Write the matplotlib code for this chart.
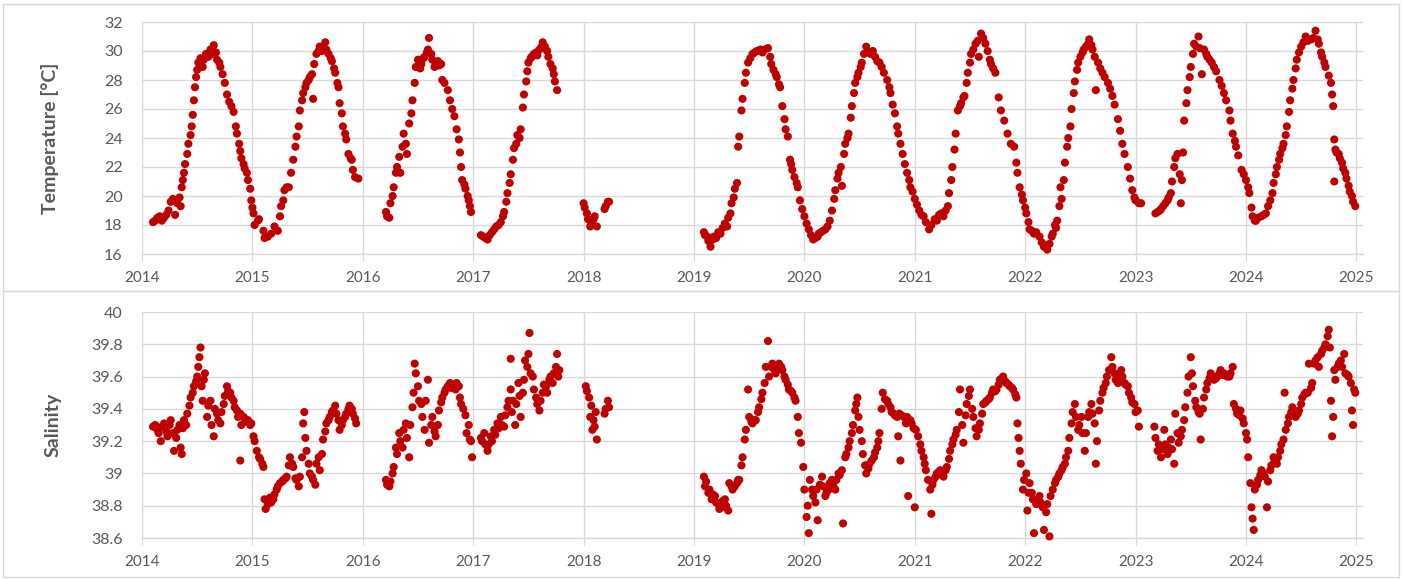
import matplotlib
matplotlib.use("Agg")
import matplotlib.pyplot as plt
from matplotlib.patches import Rectangle

# ---------------- data (decimal year, value) ----------------
temp_2014_2015 = [
 (2014.10,18.2),(2014.12,18.3),(2014.14,18.5),(2014.16,18.6),(2014.18,18.3),(2014.20,18.5),(2014.22,18.7),(2014.24,19.0),
 (2014.26,19.6),(2014.28,19.8),(2014.30,18.7),(2014.32,19.5),(2014.34,19.9),(2014.35,19.3),(2014.36,20.6),(2014.37,21.1),
 (2014.38,21.6),(2014.39,22.2),(2014.41,22.9),(2014.42,23.6),(2014.44,24.2),(2014.45,24.8),(2014.46,25.6),(2014.47,26.6),
 (2014.48,27.5),(2014.49,28.2),(2014.50,28.7),(2014.51,29.2),(2014.53,29.5),(2014.55,28.9),(2014.56,29.4),(2014.58,29.8),
 (2014.60,29.6),(2014.62,30.1),(2014.64,29.8),(2014.65,30.4),(2014.67,29.9),(2014.68,29.4),(2014.70,29.2),(2014.71,28.9),
 (2014.73,28.4),(2014.75,27.8),(2014.77,27.0),(2014.79,26.5),(2014.81,26.2),(2014.83,25.8),(2014.85,24.8),(2014.86,24.3),
 (2014.88,23.6),(2014.89,23.1),(2014.90,22.6),(2014.92,22.2),(2014.93,21.9),(2014.95,21.6),(2014.96,21.1),(2014.98,20.5),
 (2014.99,19.7),(2015.00,19.2),(2015.01,18.8),(2015.02,18.0),(2015.05,18.3),(2015.06,18.4),(2015.10,17.6),(2015.11,17.1),
 (2015.14,17.2),(2015.17,17.4),(2015.20,17.9),(2015.23,17.6),(2015.25,18.6),(2015.26,19.3),(2015.28,19.7),(2015.29,20.4),
 (2015.31,20.6),(2015.33,20.6),(2015.35,21.6),(2015.37,22.5),(2015.39,23.4),(2015.40,24.1),(2015.42,24.8),(2015.43,25.9),
 (2015.45,26.6),(2015.46,27.1),(2015.48,27.5),(2015.49,27.8),(2015.51,28.0),(2015.52,28.2),(2015.54,28.4),(2015.55,26.7),
 (2015.56,29.1),(2015.58,29.8),(2015.60,30.0),(2015.61,30.3),(2015.63,30.0),(2015.64,30.1),(2015.66,30.6),(2015.67,30.1),
 (2015.69,29.8),(2015.71,29.5),(2015.72,29.3),(2015.74,28.8),(2015.75,28.5),(2015.77,27.8),(2015.78,27.5),(2015.79,26.4),
 (2015.81,25.7),(2015.82,24.8),(2015.84,24.3),(2015.85,23.9),(2015.87,22.9),(2015.89,22.6),(2015.90,22.5),(2015.91,21.8),
 (2015.93,21.3),(2015.96,21.2),
]
temp_2016_2017 = [
 (2016.21,18.9),(2016.22,18.6),(2016.24,18.5),(2016.25,19.5),(2016.27,20.0),(2016.28,20.6),(2016.30,21.6),(2016.31,22.0),
 (2016.33,22.7),(2016.34,21.6),(2016.36,23.4),(2016.37,24.3),(2016.39,23.6),(2016.40,22.9),(2016.42,25.0),(2016.44,25.7),
 (2016.45,26.6),(2016.47,27.8),(2016.48,28.9),(2016.50,29.4),(2016.52,28.8),(2016.53,29.1),(2016.55,29.5),(2016.56,29.6),
 (2016.58,29.9),(2016.59,30.1),(2016.60,30.9),(2016.62,29.8),(2016.63,29.4),(2016.65,28.9),(2016.66,29.1),(2016.68,29.3),
 (2016.69,29.0),(2016.71,29.1),(2016.72,28.0),(2016.74,27.8),(2016.77,27.3),(2016.79,26.6),(2016.81,26.0),(2016.83,25.5),
 (2016.85,24.6),(2016.87,23.9),(2016.88,23.0),(2016.89,22.0),(2016.90,21.1),(2016.92,20.8),(2016.93,20.5),(2016.95,20.0),
 (2016.96,19.7),(2016.97,19.3),(2016.98,18.9),(2017.07,17.3),(2017.09,17.2),(2017.11,17.1),(2017.13,17.0),(2017.15,17.3),
 (2017.17,17.5),(2017.19,17.7),(2017.21,17.9),(2017.23,18.0),(2017.25,18.2),(2017.27,18.6),(2017.28,18.9),(2017.30,19.6),
 (2017.31,20.2),(2017.33,20.9),(2017.34,21.5),(2017.36,22.5),(2017.37,23.3),(2017.39,23.6),(2017.40,24.2),(2017.42,24.0),
 (2017.43,24.6),(2017.45,26.1),(2017.46,27.0),(2017.48,27.9),(2017.49,28.6),(2017.50,29.2),(2017.52,29.5),(2017.53,29.6),
 (2017.55,29.8),(2017.57,29.9),(2017.58,29.7),(2017.60,30.1),(2017.62,30.3),(2017.63,30.6),(2017.65,30.3),(2017.67,30.0),
 (2017.68,29.6),(2017.70,29.1),(2017.72,28.8),(2017.73,28.4),(2017.74,27.9),(2017.76,27.3),
]
temp_2018 = [
 (2018.00,19.5),(2018.01,19.2),(2018.03,18.8),(2018.04,18.4),(2018.06,17.9),(2018.07,18.2),(2018.09,18.4),(2018.10,18.6),
 (2018.12,17.9),(2018.19,19.1),(2018.20,19.3),(2018.22,19.6),(2018.23,19.6),
]
temp_2019_2022 = [
 (2019.09,17.5),(2019.10,17.3),(2019.12,17.2),(2019.13,16.9),(2019.15,16.5),(2019.17,17.0),(2019.18,17.2),(2019.20,17.1),
 (2019.22,17.5),(2019.24,17.4),(2019.26,17.8),(2019.28,18.1),(2019.30,17.9),(2019.31,18.5),(2019.33,18.8),(2019.34,19.5),
 (2019.36,19.9),(2019.37,20.5),(2019.39,20.9),(2019.40,23.4),(2019.41,24.1),(2019.43,25.9),(2019.44,26.7),(2019.46,27.8),
 (2019.47,28.5),(2019.49,29.2),(2019.51,29.5),(2019.53,29.8),(2019.55,29.9),(2019.57,30.0),(2019.60,30.1),(2019.62,29.9),
 (2019.64,30.1),(2019.67,30.2),(2019.69,29.6),(2019.70,29.1),(2019.72,28.7),(2019.74,28.4),(2019.75,28.2),(2019.77,27.7),
 (2019.78,27.5),(2019.80,26.2),(2019.82,25.3),(2019.83,24.6),(2019.85,24.1),(2019.87,22.5),(2019.88,22.2),(2019.89,21.8),
 (2019.91,21.3),(2019.93,20.9),(2019.94,20.6),(2019.96,19.7),(2019.98,19.1),(2020.00,18.6),(2020.02,18.1),(2020.04,17.7),
 (2020.06,17.3),(2020.08,17.0),(2020.10,17.1),(2020.12,17.2),(2020.13,17.4),(2020.15,17.5),(2020.17,17.6),(2020.19,17.7),
 (2020.21,17.9),(2020.23,18.3),(2020.25,19.0),(2020.27,19.8),(2020.28,20.4),(2020.30,21.2),(2020.31,21.6),(2020.33,22.0),
 (2020.34,20.7),(2020.36,22.9),(2020.37,23.6),(2020.39,24.0),(2020.40,24.3),(2020.42,25.4),(2020.43,26.2),(2020.45,27.1),
 (2020.46,27.8),(2020.48,28.2),(2020.49,28.5),(2020.51,28.9),(2020.52,29.2),(2020.54,29.8),(2020.56,30.3),(2020.58,29.9),
 (2020.60,29.8),(2020.62,30.0),(2020.64,29.6),(2020.66,29.3),(2020.68,29.2),(2020.70,28.9),(2020.72,28.5),(2020.75,28.0),
 (2020.77,27.5),(2020.78,27.1),(2020.80,26.3),(2020.82,25.7),(2020.84,24.8),(2020.85,24.3),(2020.87,23.6),(2020.89,22.9),
 (2020.91,22.2),(2020.93,21.6),(2020.95,21.1),(2020.96,20.6),(2020.98,20.3),(2021.00,19.8),(2021.02,19.4),(2021.04,19.0),
 (2021.06,18.7),(2021.08,18.6),(2021.10,18.2),(2021.13,17.7),(2021.15,18.0),(2021.18,18.4),(2021.20,18.3),(2021.22,18.7),
 (2021.24,18.8),(2021.26,18.6),(2021.28,19.0),(2021.30,19.3),(2021.31,20.2),(2021.33,21.1),(2021.34,22.0),(2021.36,23.2),
 (2021.37,24.3),(2021.39,25.9),(2021.41,26.2),(2021.42,26.4),(2021.44,26.8),(2021.45,26.9),(2021.47,27.8),(2021.48,28.5),
 (2021.50,29.2),(2021.51,29.8),(2021.53,30.1),(2021.55,30.5),(2021.57,30.7),(2021.58,29.6),(2021.60,31.2),(2021.62,30.9),
 (2021.64,30.5),(2021.66,30.0),(2021.68,29.4),(2021.69,29.1),(2021.71,28.8),(2021.73,28.5),(2021.76,26.8),(2021.78,25.9),
 (2021.81,25.2),(2021.84,24.3),(2021.87,23.6),(2021.90,23.4),(2021.92,22.3),(2021.93,21.6),(2021.95,20.6),(2021.97,20.1),
 (2021.98,19.7),(2022.00,19.2),(2022.01,18.8),(2022.03,18.2),(2022.04,17.7),(2022.06,17.6),(2022.08,17.4),(2022.10,17.5),
 (2022.13,17.2),(2022.15,16.8),(2022.17,16.5),(2022.19,16.6),(2022.20,16.3),(2022.22,16.7),(2022.24,17.2),(2022.25,17.4),
 (2022.27,18.0),(2022.28,17.8),(2022.29,18.3),(2022.31,19.3),(2022.32,20.6),(2022.33,19.8),(2022.35,21.1),(2022.36,22.3),
 (2022.38,23.4),(2022.39,24.0),(2022.41,24.8),(2022.42,26.0),(2022.44,27.1),(2022.45,27.9),(2022.47,28.7),(2022.48,29.2),
 (2022.50,29.6),(2022.52,29.9),(2022.53,30.1),(2022.55,30.3),(2022.57,30.5),(2022.58,30.8),(2022.60,30.4),(2022.61,30.1),
 (2022.63,29.6),(2022.64,27.3),(2022.66,29.2),(2022.68,28.8),(2022.70,28.5),(2022.72,28.2),(2022.75,27.8),(2022.77,27.4),
 (2022.79,26.9),(2022.81,26.3),(2022.84,25.3),(2022.86,24.5),(2022.88,23.6),(2022.90,22.9),(2022.93,22.0),(2022.95,21.2),
 (2022.97,20.4),(2022.99,19.9),(2023.00,19.7),(2023.03,19.5),(2023.05,19.5),
]
temp_2023_2024 = [
 (2023.18,18.8),(2023.20,18.9),(2023.22,19.0),(2023.23,19.1),(2023.25,19.3),(2023.27,19.5),(2023.29,19.7),(2023.30,19.9),
 (2023.32,20.2),(2023.33,21.0),(2023.35,22.0),(2023.36,22.6),(2023.38,22.9),(2023.40,21.5),(2023.41,19.5),(2023.42,21.1),
 (2023.43,23.0),(2023.44,25.2),(2023.46,26.4),(2023.47,27.3),(2023.49,28.2),(2023.50,28.9),(2023.52,29.8),(2023.53,30.5),
 (2023.55,30.3),(2023.57,31.0),(2023.58,30.2),(2023.60,28.4),(2023.62,30.1),(2023.64,29.8),(2023.65,29.6),(2023.67,29.4),
 (2023.69,29.2),(2023.71,28.9),(2023.73,28.6),(2023.76,28.0),(2023.78,27.6),(2023.80,27.1),(2023.82,26.6),(2023.85,25.9),
 (2023.86,25.2),(2023.88,24.3),(2023.90,23.8),(2023.91,23.4),(2023.93,22.8),(2023.96,21.8),(2023.98,21.5),(2024.00,21.1),
 (2024.02,20.6),(2024.03,20.2),(2024.05,19.2),(2024.06,18.6),(2024.08,18.3),(2024.09,18.3),(2024.11,18.5),(2024.14,18.6),
 (2024.16,18.7),(2024.18,18.8),(2024.20,19.3),(2024.22,19.7),(2024.24,20.2),(2024.25,20.9),(2024.27,21.5),(2024.28,22.0),
 (2024.30,22.5),(2024.31,22.9),(2024.33,23.3),(2024.34,23.6),(2024.36,24.2),(2024.37,24.8),(2024.39,25.8),(2024.40,26.6),
 (2024.42,27.4),(2024.43,28.0),(2024.45,28.8),(2024.46,29.4),(2024.48,29.9),(2024.50,30.3),(2024.52,30.6),(2024.54,31.0),
 (2024.56,30.7),(2024.59,30.8),(2024.61,30.9),(2024.63,31.4),(2024.65,30.8),(2024.66,30.5),(2024.68,29.9),(2024.69,29.6),
 (2024.71,29.2),(2024.72,28.9),(2024.75,28.3),(2024.77,27.8),(2024.78,27.0),(2024.79,26.2),(2024.80,23.9),(2024.80,21.0),
 (2024.81,23.2),(2024.82,23.0),(2024.84,22.9),(2024.85,22.6),(2024.87,22.3),(2024.88,21.9),(2024.90,21.6),(2024.91,21.2),
 (2024.93,20.7),(2024.94,20.3),(2024.96,20.0),(2024.97,19.6),(2024.99,19.3),
]

sal_2014_2015 = [
 (2014.10,39.29),(2014.12,39.30),(2014.14,39.27),(2014.15,39.25),(2014.17,39.20),(2014.18,39.29),(2014.20,39.31),(2014.22,39.26),
 (2014.23,39.23),(2014.25,39.30),(2014.26,39.33),(2014.28,39.25),(2014.29,39.14),(2014.31,39.22),(2014.32,39.27),(2014.34,39.30),
 (2014.35,39.16),(2014.36,39.12),(2014.37,39.28),(2014.38,39.33),(2014.40,39.30),(2014.41,39.37),(2014.43,39.42),(2014.44,39.47),
 (2014.46,39.50),(2014.47,39.54),(2014.49,39.57),(2014.50,39.60),(2014.51,39.66),(2014.52,39.72),(2014.53,39.78),(2014.54,39.54),
 (2014.55,39.45),(2014.56,39.58),(2014.57,39.62),(2014.59,39.35),(2014.60,39.42),(2014.62,39.45),(2014.63,39.30),(2014.65,39.23),
 (2014.66,39.40),(2014.68,39.37),(2014.69,39.33),(2014.71,39.31),(2014.72,39.38),(2014.74,39.43),(2014.75,39.48),(2014.77,39.54),
 (2014.78,39.51),(2014.80,39.50),(2014.81,39.47),(2014.83,39.45),(2014.84,39.41),(2014.86,39.39),(2014.87,39.35),(2014.89,39.37),
 (2014.89,39.08),(2014.90,39.30),(2014.92,39.35),(2014.93,39.34),(2014.95,39.32),(2014.96,39.33),(2014.98,39.30),(2014.99,39.31),
 (2015.01,39.23),(2015.02,39.20),(2015.04,39.14),(2015.06,39.10),(2015.07,39.09),(2015.09,39.06),(2015.10,39.04),(2015.11,38.84),
 (2015.12,38.78),(2015.14,38.81),(2015.16,38.85),(2015.17,38.82),(2015.19,38.84),(2015.20,38.87),(2015.22,38.90),(2015.23,38.92),
 (2015.25,38.94),(2015.27,38.95),(2015.28,38.96),(2015.30,38.97),(2015.31,38.98),(2015.33,39.05),(2015.34,39.10),(2015.36,39.06),
 (2015.37,39.04),(2015.39,38.97),(2015.40,38.96),(2015.42,38.92),(2015.43,38.98),(2015.45,39.10),(2015.46,39.31),(2015.47,39.38),
 (2015.48,39.22),(2015.49,39.14),(2015.51,39.06),(2015.52,39.00),(2015.54,38.98),(2015.55,38.96),(2015.57,38.93),(2015.58,39.06),
 (2015.60,39.10),(2015.61,39.02),(2015.63,39.12),(2015.64,39.21),(2015.66,39.26),(2015.67,39.31),(2015.69,39.33),(2015.70,39.35),
 (2015.72,39.38),(2015.73,39.39),(2015.75,39.42),(2015.76,39.37),(2015.78,39.33),(2015.79,39.27),(2015.81,39.30),(2015.82,39.33),
 (2015.84,39.35),(2015.85,39.37),(2015.87,39.40),(2015.88,39.42),(2015.90,39.40),(2015.91,39.37),(2015.93,39.34),(2015.94,39.31),
]
sal_2016_2017 = [
 (2016.21,38.96),(2016.22,38.93),(2016.24,38.92),(2016.25,38.95),(2016.27,39.00),(2016.28,39.04),(2016.30,39.16),(2016.31,39.12),
 (2016.33,39.25),(2016.34,39.20),(2016.36,39.16),(2016.37,39.27),(2016.39,39.31),(2016.40,39.22),(2016.42,39.10),(2016.43,39.30),
 (2016.45,39.41),(2016.46,39.50),(2016.47,39.68),(2016.48,39.62),(2016.50,39.54),(2016.51,39.45),(2016.53,39.43),(2016.54,39.35),
 (2016.56,39.27),(2016.57,39.45),(2016.59,39.58),(2016.60,39.19),(2016.62,39.30),(2016.63,39.35),(2016.65,39.26),(2016.66,39.23),
 (2016.68,39.30),(2016.69,39.39),(2016.71,39.44),(2016.72,39.47),(2016.74,39.50),(2016.75,39.52),(2016.77,39.54),(2016.79,39.56),
 (2016.80,39.53),(2016.82,39.55),(2016.84,39.52),(2016.85,39.56),(2016.87,39.54),(2016.88,39.47),(2016.89,39.43),(2016.91,39.40),
 (2016.93,39.36),(2016.94,39.25),(2016.96,39.30),(2016.97,39.21),(2016.98,39.20),(2016.99,39.10),(2017.07,39.22),(2017.08,39.20),
 (2017.10,39.25),(2017.11,39.18),(2017.13,39.14),(2017.14,39.18),(2017.16,39.23),(2017.17,39.20),(2017.19,39.27),(2017.20,39.24),
 (2017.22,39.31),(2017.23,39.28),(2017.25,39.35),(2017.26,39.30),(2017.28,39.29),(2017.29,39.36),(2017.31,39.41),(2017.32,39.45),
 (2017.34,39.52),(2017.34,39.71),(2017.35,39.38),(2017.36,39.45),(2017.38,39.30),(2017.39,39.43),(2017.41,39.56),(2017.42,39.48),
 (2017.43,39.35),(2017.45,39.50),(2017.46,39.58),(2017.47,39.70),(2017.49,39.66),(2017.50,39.74),(2017.51,39.87),(2017.52,39.62),
 (2017.54,39.60),(2017.55,39.52),(2017.57,39.47),(2017.58,39.43),(2017.60,39.39),(2017.61,39.45),(2017.63,39.50),(2017.64,39.55),
 (2017.66,39.54),(2017.67,39.50),(2017.69,39.58),(2017.70,39.60),(2017.72,39.56),(2017.73,39.62),(2017.75,39.66),(2017.76,39.74),
 (2017.77,39.60),(2017.78,39.64),
]
sal_2018 = [
 (2018.02,39.54),(2018.03,39.51),(2018.05,39.47),(2018.06,39.35),(2018.07,39.42),(2018.08,39.27),(2018.09,39.33),(2018.10,39.29),
 (2018.11,39.38),(2018.12,39.21),(2018.19,39.37),(2018.20,39.40),(2018.22,39.45),(2018.23,39.41),
]
sal_2019_2022 = [
 (2019.09,38.98),(2019.10,38.92),(2019.11,38.95),(2019.13,38.88),(2019.14,38.90),(2019.16,38.84),(2019.17,38.87),(2019.19,38.86),
 (2019.20,38.82),(2019.22,38.81),(2019.23,38.78),(2019.25,38.79),(2019.26,38.83),(2019.28,38.84),(2019.29,38.80),(2019.31,38.77),
 (2019.32,38.94),(2019.34,38.92),(2019.35,38.90),(2019.37,38.92),(2019.39,38.94),(2019.40,38.96),(2019.41,38.96),(2019.43,39.05),
 (2019.44,39.10),(2019.46,39.21),(2019.47,39.27),(2019.49,39.52),(2019.50,39.35),(2019.52,39.32),(2019.53,39.31),(2019.55,39.33),
 (2019.56,39.33),(2019.58,39.38),(2019.59,39.41),(2019.61,39.46),(2019.62,39.50),(2019.64,39.56),(2019.65,39.66),(2019.67,39.82),
 (2019.68,39.60),(2019.70,39.66),(2019.71,39.68),(2019.73,39.64),(2019.74,39.62),(2019.76,39.65),(2019.77,39.68),(2019.79,39.66),
 (2019.80,39.64),(2019.82,39.60),(2019.83,39.58),(2019.85,39.55),(2019.86,39.52),(2019.88,39.51),(2019.89,39.50),(2019.91,39.47),
 (2019.92,39.45),(2019.94,39.35),(2019.95,39.25),(2019.97,39.19),(2019.99,39.04),(2020.00,38.90),(2020.02,38.73),(2020.03,38.80),
 (2020.04,38.63),(2020.05,38.96),(2020.07,38.90),(2020.08,38.86),(2020.10,38.82),(2020.11,38.90),(2020.12,38.71),(2020.14,38.93),
 (2020.16,38.98),(2020.17,38.92),(2020.19,38.86),(2020.20,38.88),(2020.22,38.90),(2020.23,38.94),(2020.25,38.96),(2020.26,38.93),
 (2020.28,38.90),(2020.29,38.96),(2020.31,39.00),(2020.32,38.99),(2020.34,39.02),(2020.35,38.69),(2020.37,39.10),(2020.38,39.12),
 (2020.40,39.16),(2020.41,39.20),(2020.43,39.25),(2020.44,39.30),(2020.46,39.39),(2020.47,39.43),(2020.48,39.47),(2020.49,39.35),
 (2020.50,39.27),(2020.52,39.20),(2020.53,39.12),(2020.55,39.05),(2020.56,39.00),(2020.58,39.03),(2020.59,39.06),(2020.61,39.08),
 (2020.63,39.10),(2020.64,39.13),(2020.66,39.16),(2020.67,39.20),(2020.68,39.25),(2020.70,39.40),(2020.71,39.50),(2020.73,39.46),
 (2020.75,39.45),(2020.76,39.43),(2020.78,39.41),(2020.79,39.38),(2020.81,39.37),(2020.82,39.36),(2020.84,39.35),(2020.85,39.23),
 (2020.86,39.37),(2020.87,39.08),(2020.88,39.36),(2020.90,39.35),(2020.92,39.31),(2020.93,39.35),(2020.94,38.86),(2020.96,39.33),
 (2020.97,39.31),(2020.99,39.28),(2021.00,38.79),(2021.01,39.27),(2021.03,39.23),(2021.05,39.18),(2021.06,39.14),(2021.08,39.10),
 (2021.09,39.06),(2021.10,39.02),(2021.12,38.96),(2021.14,38.90),(2021.15,38.75),(2021.16,38.93),(2021.17,38.96),(2021.19,38.98),
 (2021.20,39.00),(2021.22,39.01),(2021.23,39.02),(2021.25,38.99),(2021.26,38.98),(2021.28,39.02),(2021.29,39.04),(2021.31,39.09),
 (2021.32,39.14),(2021.34,39.18),(2021.35,39.21),(2021.37,39.24),(2021.38,39.27),(2021.40,39.38),(2021.41,39.52),(2021.43,39.30),
 (2021.44,39.19),(2021.46,39.36),(2021.47,39.43),(2021.49,39.48),(2021.50,39.52),(2021.52,39.40),(2021.53,39.35),(2021.55,39.28),
 (2021.56,39.23),(2021.58,39.27),(2021.59,39.31),(2021.61,39.37),(2021.62,39.43),(2021.64,39.44),(2021.65,39.45),(2021.67,39.46),
 (2021.68,39.47),(2021.70,39.50),(2021.71,39.52),(2021.73,39.51),(2021.74,39.52),(2021.76,39.55),(2021.77,39.58),(2021.79,39.59),
 (2021.80,39.60),(2021.82,39.57),(2021.83,39.56),(2021.85,39.55),(2021.86,39.54),(2021.88,39.53),(2021.89,39.52),(2021.91,39.49),
 (2021.92,39.47),(2021.93,39.31),(2021.94,39.22),(2021.95,39.14),(2021.96,39.06),(2021.98,38.90),(2021.99,38.96),(2022.01,39.00),
 (2022.02,38.77),(2022.03,38.88),(2022.04,38.94),(2022.06,38.88),(2022.07,38.84),(2022.08,38.63),(2022.10,38.81),(2022.11,38.84),
 (2022.13,38.86),(2022.14,38.82),(2022.16,38.79),(2022.17,38.65),(2022.19,38.76),(2022.20,38.81),(2022.22,38.61),(2022.23,38.86),
 (2022.25,38.90),(2022.27,38.94),(2022.28,38.96),(2022.30,38.98),(2022.31,39.00),(2022.33,39.02),(2022.34,39.04),(2022.36,39.06),
 (2022.37,39.10),(2022.39,39.14),(2022.40,39.22),(2022.42,39.31),(2022.43,39.38),(2022.45,39.43),(2022.46,39.35),(2022.48,39.27),
 (2022.49,39.30),(2022.51,39.35),(2022.52,39.25),(2022.54,39.14),(2022.55,39.25),(2022.57,39.35),(2022.58,39.38),(2022.60,39.43),
 (2022.61,39.37),(2022.63,39.31),(2022.64,39.06),(2022.65,39.20),(2022.67,39.39),(2022.68,39.45),(2022.70,39.50),(2022.71,39.53),
 (2022.73,39.56),(2022.74,39.60),(2022.76,39.64),(2022.78,39.72),(2022.79,39.66),(2022.81,39.62),(2022.82,39.58),(2022.84,39.56),
 (2022.85,39.60),(2022.87,39.64),(2022.88,39.60),(2022.90,39.56),(2022.91,39.55),(2022.93,39.54),(2022.94,39.50),(2022.96,39.47),
 (2022.97,39.44),(2022.99,39.43),(2023.00,39.38),(2023.02,39.39),(2023.03,39.29),
]
sal_2023_2024 = [
 (2023.17,39.29),(2023.18,39.22),(2023.20,39.14),(2023.21,39.18),(2023.23,39.10),(2023.24,39.15),(2023.26,39.27),(2023.27,39.18),
 (2023.29,39.12),(2023.30,39.16),(2023.32,39.21),(2023.33,39.15),(2023.35,39.06),(2023.36,39.37),(2023.38,39.25),(2023.39,39.19),
 (2023.41,39.23),(2023.42,39.27),(2023.44,39.33),(2023.45,39.41),(2023.47,39.50),(2023.48,39.60),(2023.50,39.72),(2023.51,39.62),
 (2023.52,39.54),(2023.54,39.45),(2023.55,39.41),(2023.57,39.38),(2023.58,39.37),(2023.59,39.21),(2023.61,39.40),(2023.62,39.47),
 (2023.64,39.52),(2023.65,39.56),(2023.67,39.59),(2023.68,39.62),(2023.70,39.60),(2023.71,39.58),(2023.73,39.59),(2023.74,39.60),
 (2023.76,39.62),(2023.77,39.64),(2023.79,39.61),(2023.80,39.62),(2023.82,39.61),(2023.83,39.60),(2023.85,39.60),(2023.86,39.62),
 (2023.88,39.66),(2023.89,39.43),(2023.91,39.40),(2023.92,39.37),(2023.94,39.36),(2023.95,39.39),(2023.97,39.34),(2023.98,39.31),
 (2024.00,39.25),(2024.01,39.21),(2024.02,39.10),(2024.04,38.94),(2024.05,38.79),(2024.06,38.72),(2024.07,38.65),(2024.08,38.90),
 (2024.10,38.93),(2024.11,38.96),(2024.13,38.99),(2024.14,39.02),(2024.16,39.00),(2024.17,38.98),(2024.19,38.79),(2024.20,38.95),
 (2024.22,39.02),(2024.23,39.05),(2024.25,39.10),(2024.26,39.08),(2024.28,39.06),(2024.29,39.10),(2024.31,39.14),(2024.32,39.18),
 (2024.34,39.21),(2024.35,39.50),(2024.36,39.27),(2024.38,39.31),(2024.39,39.35),(2024.41,39.38),(2024.42,39.41),(2024.44,39.37),
 (2024.45,39.35),(2024.47,39.37),(2024.48,39.39),(2024.50,39.43),(2024.51,39.47),(2024.53,39.49),(2024.54,39.50),(2024.56,39.50),
 (2024.57,39.68),(2024.59,39.53),(2024.60,39.56),(2024.62,39.68),(2024.63,39.70),(2024.65,39.72),(2024.66,39.66),(2024.68,39.74),
 (2024.69,39.76),(2024.71,39.78),(2024.72,39.80),(2024.74,39.85),(2024.75,39.89),(2024.76,39.78),(2024.77,39.45),(2024.78,39.23),
 (2024.79,39.35),(2024.80,39.64),(2024.81,39.58),(2024.83,39.66),(2024.84,39.68),(2024.86,39.70),(2024.87,39.66),(2024.89,39.74),
 (2024.90,39.62),(2024.92,39.61),(2024.93,39.60),(2024.95,39.56),(2024.96,39.39),(2024.97,39.30),(2024.98,39.52),(2024.99,39.50),
]

year_ticks = [2014, 2015, 2016, 2017, 2018, 2019, 2020, 2021, 2022, 2023, 2024, 2025]
temp_ticks = [16, 18, 20, 22, 24, 26, 28, 30, 32]
sal_ticks = [38.6, 38.8, 39.0, 39.2, 39.4, 39.6, 39.8, 40.0]
sal_tick_labels = ["38.6", "38.8", "39", "39.2", "39.4", "39.6", "39.8", "40"]

# ---------------- style ----------------
plt.rcParams['font.family'] = ['Lato', 'DejaVu Sans']
W, H = 1403, 580
fig = plt.figure(figsize=(W / 100, H / 100), dpi=100)

DOT = '#C00000'
GRID = '#D9D9D9'
TXT = '#595959'

def fx(px):
    return px / W

def fy(py):
    return 1 - py / H

# panel borders (shared edge between the two panels)
for (x0, y0, x1, y1) in [(3, 4, 1399, 291), (3, 291, 1399, 577)]:
    fig.add_artist(Rectangle((fx(x0), fy(y1)), fx(x1) - fx(x0), fy(y0) - fy(y1),
                             transform=fig.transFigure, fill=False,
                             edgecolor=GRID, linewidth=1.0))

def make_axes(top_px, bottom_px):
    left, right = 142, 1363
    return fig.add_axes([fx(left), fy(bottom_px), fx(right) - fx(left), fy(top_px) - fy(bottom_px)])

ax1 = make_axes(22, 254)
ax2 = make_axes(312, 538)

def unpack(*segments):
    xs, ys = [], []
    for seg in segments:
        for x, y in seg:
            xs.append(x)
            ys.append(y)
    return xs, ys

tx, ty = unpack(temp_2014_2015, temp_2016_2017, temp_2018, temp_2019_2022, temp_2023_2024)
sx, sy = unpack(sal_2014_2015, sal_2016_2017, sal_2018, sal_2019_2022, sal_2023_2024)

for ax, xs, ys, ticks, ylim in [(ax1, tx, ty, temp_ticks, (16, 32)),
                                (ax2, sx, sy, sal_ticks, (38.6, 40.0))]:
    ax.scatter(xs, ys, s=34, color=DOT, edgecolors='none', zorder=3, clip_on=False)
    ax.set_xlim(2014, 2025.06)
    ax.set_ylim(*ylim)
    ax.set_xticks(year_ticks)
    ax.set_xticklabels([str(y) for y in year_ticks])
    ax.set_yticks(ticks)
    ax.grid(True, color=GRID, linewidth=1.0, zorder=0)
    ax.set_axisbelow(True)
    for side in ['top', 'right', 'left']:
        ax.spines[side].set_visible(False)
    ax.spines['bottom'].set_color(GRID)
    ax.spines['bottom'].set_linewidth(1.0)
    ax.tick_params(axis='x', length=5, color=GRID, labelsize=11, labelcolor=TXT, pad=7)
    ax.tick_params(axis='y', length=0, labelsize=11.5, labelcolor=TXT, pad=14)

ax2.set_yticklabels(sal_tick_labels)

fig.text(fx(50), fy(138), 'Temperature [°C]', rotation=90, ha='center', va='center',
         fontsize=14, fontweight='bold', color=TXT)
fig.text(fx(53), fy(425), 'Salinity', rotation=90, ha='center', va='center',
         fontsize=14, fontweight='bold', color=TXT)

fig.savefig('out.png', dpi=100, facecolor='white')
